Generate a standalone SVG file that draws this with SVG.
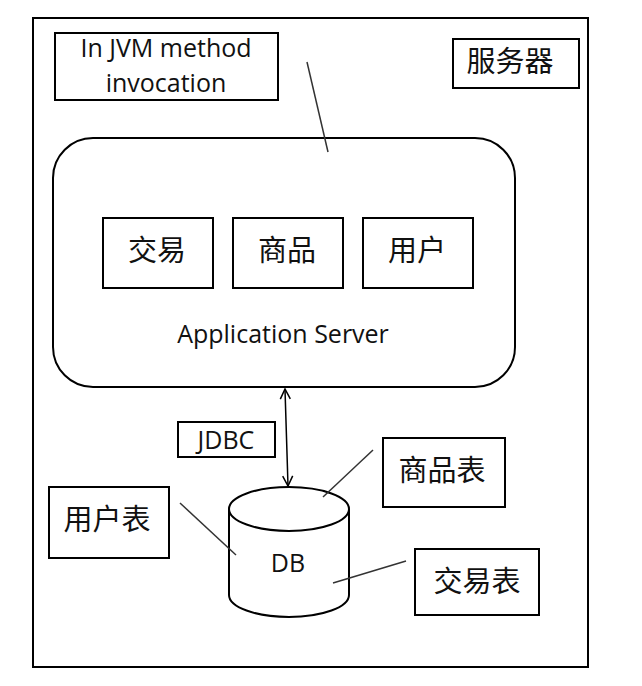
<svg xmlns="http://www.w3.org/2000/svg" width="642" height="686" viewBox="0 0 642 686">
<style>
.box{fill:#fff;stroke:#000;stroke-width:2}
.lat{font-family:"Open Sans","Liberation Sans",sans-serif;font-size:25px;fill:#111;text-anchor:middle}
.cjk{font-family:"Noto Sans CJK SC","Noto Sans",sans-serif;font-size:29px;fill:#111;text-anchor:middle}
.ln{stroke:#333;stroke-width:1.5;fill:none}
</style>
<defs>
<marker id="arr" viewBox="0 0 12 12" refX="11" refY="6" markerWidth="12" markerHeight="12" markerUnits="userSpaceOnUse" orient="auto-start-reverse">
<path d="M1,1 L11,6 L1,11" fill="none" stroke="#000" stroke-width="1.5"/>
</marker>
</defs>
<rect width="642" height="686" fill="#fff"/>
<g id="server">
<rect class="box" x="33" y="18" width="555" height="649"/>
</g>
<g id="server-label">
<rect class="box" x="453" y="39" width="126" height="49"/>
<text class="cjk" x="510" y="72">服务器</text>
</g>
<g id="jvm-note">
<rect class="box" x="55" y="33" width="223" height="67"/>
<text class="lat" x="166" y="57">In JVM method</text>
<text class="lat" x="166" y="92">invocation</text>
</g>
<g id="app-server">
<rect class="box" x="53" y="138" width="462" height="249" rx="40" ry="40"/>
<text class="lat" x="283" y="343">Application Server</text>
</g>
<g id="trade">
<rect class="box" x="103" y="218" width="110" height="70"/>
<text class="cjk" x="157" y="261">交易</text>
</g>
<g id="goods">
<rect class="box" x="233" y="218" width="110" height="70"/>
<text class="cjk" x="287" y="261">商品</text>
</g>
<g id="user">
<rect class="box" x="363" y="218" width="110" height="70"/>
<text class="cjk" x="417" y="261">用户</text>
</g>
<g id="jdbc-label">
<rect class="box" x="178" y="422" width="97" height="35"/>
<text class="lat" x="226" y="449">JDBC</text>
</g>
<g id="db">
<path class="box" d="M229,509 L229,595 A60,22 0 0 0 349,595 L349,509 A60,22 0 0 0 229,509 Z"/>
<path d="M229,509 A60,22 0 0 0 349,509" fill="none" stroke="#000" stroke-width="2"/>
<text class="lat" x="288" y="572">DB</text>
</g>
<g id="goods-table">
<rect class="box" x="383" y="438" width="122" height="69"/>
<text class="cjk" x="442" y="481">商品表</text>
</g>
<g id="user-table">
<rect class="box" x="49" y="487" width="120" height="71"/>
<text class="cjk" x="107" y="530">用户表</text>
</g>
<g id="trade-table">
<rect class="box" x="415" y="549" width="124" height="66"/>
<text class="cjk" x="477" y="592">交易表</text>
</g>
<g id="connectors">
<line class="ln" x1="307" y1="62" x2="328" y2="152"/>
<line x1="285" y1="389" x2="288" y2="486" stroke="#000" stroke-width="1.5" marker-start="url(#arr)" marker-end="url(#arr)"/>
<line class="ln" x1="373" y1="450" x2="323" y2="497"/>
<line class="ln" x1="180" y1="503" x2="236" y2="555"/>
<line class="ln" x1="406" y1="561" x2="333" y2="583"/>
</g>
</svg>
